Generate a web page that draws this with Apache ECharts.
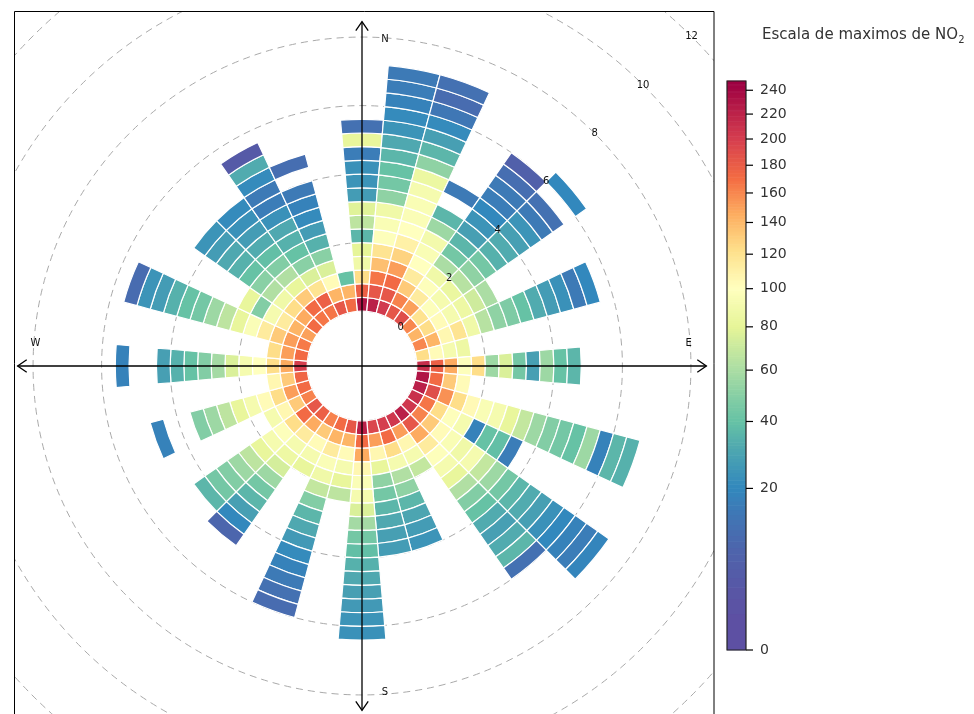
<!DOCTYPE html>
<html><head><meta charset="utf-8">
<script src="https://cdn.jsdelivr.net/npm/echarts@6/dist/echarts.min.js"></script>
<style>html,body{margin:0;padding:0;background:#fff}#c{width:974px;height:714px}</style>
</head><body><div id="c"></div>
<script>
// ---- data ----
const BIN = 0.4;          // wind speed bin width
const WS_MIN = -1.6;      // inner offset of radius axis
const WS_MAX = 12;
const DIR_STEP = 10;
const directions = [0,10,20,30,40,50,60,70,80,90,100,110,120,130,140,150,160,170,180,190,200,210,220,230,240,250,260,270,280,290,300,310,320,330,340,350];
// NO2 maxima per wind-speed bin (inner -> outer), null = no data
const d000 = [230,178,123,88,80,36,66,78,27,24,23,16,82,12];
const d010 = [222,184,167,137,119,98,95,88,52,44,40,36,31,24,21,18,16,15];
const d020 = [203,184,172,151,128,110,100,96,95,92,85,52,36,28,21,14,10,12];
const d030 = [185,162,132,114,100,95,90,56,36,null,15];
const d040 = [190,150,114,98,88,60,44,36,28,24,20,16,15,11,6];
const d050 = [160,120,98,92,84,64,52,44,34,32,28,24,15,12,null,20];
const d060 = [142,123,103,92,86,72,60];
const d070 = [160,142,106,119,88,64,52,47,40,32,27,23,15,20];
const d080 = [123,103,92,86];
const d090 = [212,178,146,98,123,56,76,44,28,56,40,36];
const d100 = [230,172,132,103];
const d110 = [222,190,156,123,104,95,92,82,68,56,48,44,40,56,18,36,34];
const d120 = [210,167,123,98,92,18,40,39,16];
const d130 = [205,162,132,103,95,88,92,68,56,44,36,32,28,23,20,18,16,19];
const d140 = [222,184,146,114,98,92,82,62,48,40,32,28,32,36,12];
const d150 = [205,151,106,92,68];
const d160 = [200,172,123,92,62,52,36,30,27,24];
const d170 = [195,151,106,82,52,44,36,31,28,27];
const d180 = [222,172,146,106,96,92,76,58,44,39,34,31,28,26,24,23];
const d190 = [184,142,103,92,82,66];
const d200 = [172,142,114,96,88,68,48,36,31,26,21,18,15,12,10];
const d210 = [162,132,103,92,82];
const d220 = [178,146,114,92,86,74,56,44,36,28,20,8];
const d230 = [184,172,123,98,92,82,66,56,48,44,36];
const d240 = [162,132,106,92];
const d250 = [172,151,123,103,92,82,66,56,48,null,null,18];
const d260 = [175,132,106];
const d270 = [200,146,123,100,92,76,58,48,40,34,28,null,null,18];
const d280 = [172,151,123];
const d290 = [165,151,132,114,96,82,66,56,44,40,34,27,24,10];
const d300 = [150,142,114,92,48,82];
const d310 = [172,146,123,88,62,50,40,34,31,27,24];
const d320 = [167,172,132,82,62,48,39,32,27,23,21];
const d330 = [167,178,119,76,50,40,34,31,23,16,15,21,32,4];
const d340 = [184,142,103,76,50,34,27,21,18,15,null,11];
const d350 = [172,142,40];
const sectorValues = [d000,d010,d020,d030,d040,d050,d060,d070,d080,d090,d100,d110,d120,d130,d140,d150,d160,d170,d180,d190,d200,d210,d220,d230,d240,d250,d260,d270,d280,d290,d300,d310,d320,d330,d340,d350];

const ringValues = [0,2,4,6,8,10,12];
const compassDirs = [0,90,180,270];
const compassLabels = ['N','E','S','W'];
const colorTicks = [0,20,40,60,80,100,120,140,160,180,200,220,240];
const colorMax = 248;
// colour scale: palette colours placed at these NO2 values
const colorStops = [0,20,40,60,80,100,122,145,170,200,245];
const palette = ['#5E4FA2','#3288BD','#66C2A5','#ABDDA4','#E6F598','#FFFFBF','#FEE08B','#FDAE61','#F46D43','#D53E4F','#9E0142'];

// ---- build ----
function colorPos(v) {
  for (let i = 0; i < colorStops.length - 1; i++) {
    if (v <= colorStops[i + 1]) return i + (v - colorStops[i]) / (colorStops[i + 1] - colorStops[i]);
  }
  return colorStops.length - 1;
}
const cells = [];
directions.forEach((dir, i) => {
  sectorValues[i].forEach((v, k) => {
    if (v !== null) cells.push([k * BIN, dir, v, colorPos(v)]);
  });
});
const barSteps = [];
for (let v = 0; v < colorMax; v += 1) barSteps.push([v, Math.min(v + 1, colorMax), v + 0.5, colorPos(v + 0.5)]);

const AXIS_WS = 8.45, LABEL_WS = 7.93;
const FONT = 'DejaVu Sans';

function center(params) { return [params.coordSys.cx, params.coordSys.cy]; }
function radiusOf(api, c, ws) { const p = api.coord([ws, 0]); return Math.hypot(p[0]-c[0], p[1]-c[1]); }

const chart = echarts.init(document.getElementById('c'), null, {renderer: 'canvas'});
chart.setOption({
  animation: false,
  backgroundColor: '#fff',
  title: {
    text: '{a|Escala de maximos de NO}{b|2}',
    left: 757, top: 21,
    textStyle: {rich: {
      a: {fontFamily: FONT, fontSize: 15, color: '#333', fontWeight: 'normal'},
      b: {fontFamily: FONT, fontSize: 10, color: '#333', fontWeight: 'normal', verticalAlign: 'bottom', padding: [9,0,0,0]}
    }}
  },
  polar: {center: [362, 366], radius: [0, 466]},
  angleAxis: {type: 'value', min: 0, max: 360, startAngle: 90, clockwise: true, show: false},
  radiusAxis: {type: 'value', min: WS_MIN, max: WS_MAX, show: false},
  grid: {left: 727, top: 81, width: 19, height: 569, show: false},
  xAxis: {type: 'value', min: 0, max: 1, show: false, gridIndex: 0},
  yAxis: {type: 'value', min: 0, max: Math.sqrt(colorMax), show: false, gridIndex: 0},
  visualMap: {
    show: false, type: 'continuous', min: 0, max: colorStops.length - 1, dimension: 3,
    seriesIndex: [1, 5], inRange: {color: palette}
  },
  graphic: {elements: [
    {type: 'rect', z: 3, shape: {x: 0, y: 0, width: 14, height: 714}, style: {fill: '#fff'}, silent: true},
    {type: 'rect', z: 3, shape: {x: 0, y: 0, width: 974, height: 11}, style: {fill: '#fff'}, silent: true},
    {type: 'rect', z: 3, shape: {x: 714, y: 0, width: 260, height: 714}, style: {fill: '#fff'}, silent: true},
    {type: 'rect', z: 7, shape: {x: 14.5, y: 11.5, width: 699.5, height: 720}, style: {fill: 'none', stroke: '#000', lineWidth: 1}, silent: true}
  ]},
  series: [
    { // 0: dashed circles
      type: 'custom', coordinateSystem: 'polar', z: 1, silent: true,
      encode: {radius: 0, angle: 1},
      data: ringValues.map(v => [v, 0]),
      renderItem(params, api) {
        const c = center(params);
        const r = radiusOf(api, c, api.value(0));
        return {type: 'circle', shape: {cx: c[0], cy: c[1], r: r},
          style: {fill: 'none', stroke: '#aaaaaa', lineWidth: 1, lineDash: [7, 5]}};
      }
    },
    { // 1: cells
      type: 'custom', coordinateSystem: 'polar', z: 4,
      encode: {radius: 0, angle: 1},
      dimensions: ['ws', 'dir', 'no2', 'cpos'],
      data: cells,
      renderItem(params, api) {
        const c = center(params);
        const w0 = api.value(0), a = api.value(1), w1 = w0 + BIN;
        const r0 = radiusOf(api, c, w0), r = radiusOf(api, c, w1);
        const pa = api.coord([w1, a - DIR_STEP / 2]), pb = api.coord([w1, a + DIR_STEP / 2]);
        let sa = Math.atan2(pa[1] - c[1], pa[0] - c[0]);
        let ea = Math.atan2(pb[1] - c[1], pb[0] - c[0]);
        if (ea < sa) ea += Math.PI * 2;
        return {type: 'sector', shape: {cx: c[0], cy: c[1], r0: r0, r: r, startAngle: sa, endAngle: ea, clockwise: true},
          style: {fill: api.visual('color'), stroke: '#fff', lineWidth: 1.2}};
      }
    },
    { // 2: ring labels
      type: 'custom', coordinateSystem: 'polar', z: 6, silent: true,
      encode: {radius: 0, angle: 1},
      data: ringValues.map(v => [v, 45]),
      renderItem(params, api) {
        const p = api.coord([api.value(0), api.value(1)]);
        return {type: 'text', x: p[0], y: p[1],
          style: {text: String(api.value(0)), fill: '#111', fontSize: 10, fontFamily: FONT, align: 'center', verticalAlign: 'middle'}};
      }
    },
    { // 3: compass axes
      type: 'custom', coordinateSystem: 'polar', z: 6, silent: true,
      encode: {radius: 0, angle: 1},
      data: compassDirs.map(d => [AXIS_WS, d]),
      renderItem(params, api) {
        const c = center(params);
        const d = api.value(1);
        const tip = api.coord([AXIS_WS, d]);
        const ang = Math.atan2(tip[1] - c[1], tip[0] - c[0]);
        const L = 11, h = 0.6;
        const a1 = [tip[0] - L * Math.cos(ang - h), tip[1] - L * Math.sin(ang - h)];
        const a2 = [tip[0] - L * Math.cos(ang + h), tip[1] - L * Math.sin(ang + h)];
        const lp = api.coord([LABEL_WS, d]);
        const idx = compassDirs.indexOf(d);
        const off = (d === 0 || d === 180) ? [23, 0] : [0, -23];
        return {type: 'group', children: [
          {type: 'line', shape: {x1: c[0], y1: c[1], x2: tip[0], y2: tip[1]}, style: {stroke: '#000', lineWidth: 1.3}},
          {type: 'polyline', shape: {points: [a1, tip, a2]}, style: {stroke: '#000', lineWidth: 1.3, fill: 'none'}},
          {type: 'text', x: lp[0] + off[0], y: lp[1] + off[1],
            style: {text: compassLabels[idx], fill: '#111', fontSize: 10, fontFamily: FONT, align: 'center', verticalAlign: 'middle'}}
        ]};
      }
    },
    { // 4: colorbar frame + ticks
      type: 'custom', coordinateSystem: 'cartesian2d', z: 12, silent: true,
      data: colorTicks.map(t => [1, Math.sqrt(t), t]),
      renderItem(params, api) {
        const p = api.coord([1, api.value(1)]);
        const children = [
          {type: 'line', shape: {x1: p[0], y1: p[1], x2: p[0] + 7, y2: p[1]}, style: {stroke: '#000', lineWidth: 1.2}},
          {type: 'text', x: p[0] + 14, y: p[1], style: {text: String(api.value(2)), fill: '#333', fontSize: 14, fontFamily: FONT, align: 'left', verticalAlign: 'middle'}}
        ];
        if (params.dataIndex === 0) {
          const tl = api.coord([0, Math.sqrt(colorMax)]), br = api.coord([1, 0]);
          children.push({type: 'rect', shape: {x: tl[0], y: tl[1], width: br[0] - tl[0], height: br[1] - tl[1]},
            style: {fill: 'none', stroke: '#222', lineWidth: 1.2}});
        }
        return {type: 'group', children: children};
      }
    },
    { // 5: colorbar gradient
      type: 'custom', coordinateSystem: 'cartesian2d', z: 10, silent: true,
      dimensions: ['v0', 'v1', 'no2', 'cpos'],
      data: barSteps,
      renderItem(params, api) {
        const top = api.coord([0, Math.sqrt(api.value(1))]);
        const bot = api.coord([1, Math.sqrt(api.value(0))]);
        return {type: 'rect', shape: {x: top[0], y: top[1] - 0.3, width: bot[0] - top[0], height: bot[1] - top[1] + 0.6},
          style: {fill: api.visual('color')}};
      }
    }
  ]
});
</script></body></html>
